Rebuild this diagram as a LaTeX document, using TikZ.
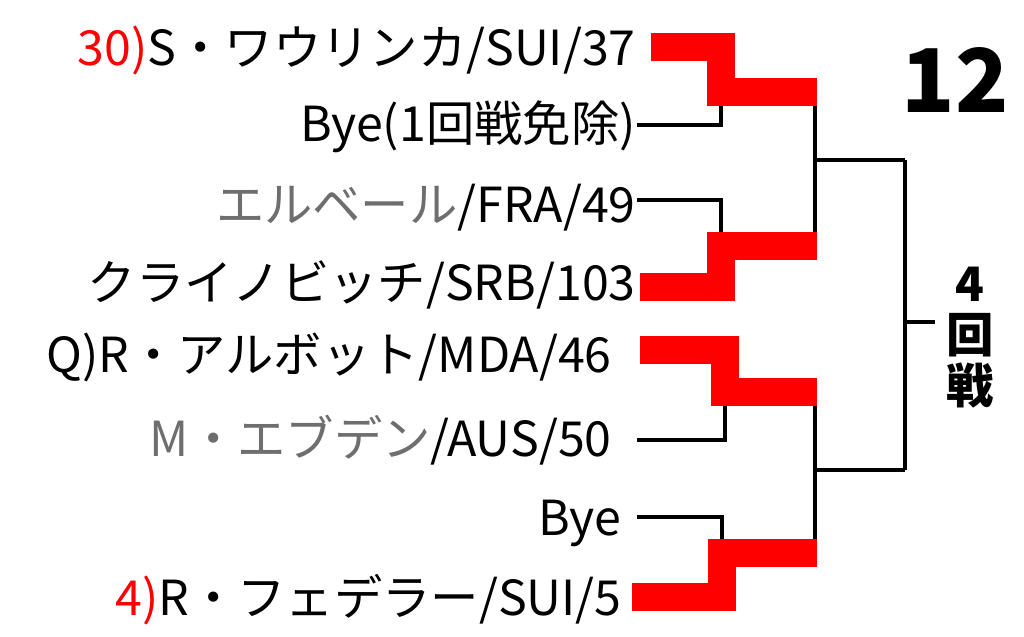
\documentclass[tikz,border=0pt]{standalone}
\usepackage{fontspec}
\setmainfont{Noto Sans CJK JP}
\definecolor{winred}{RGB}{255,0,0}
\definecolor{losegray}{RGB}{110,110,110}
\begin{document}
\begin{tikzpicture}[x=0.02cm,y=-0.02cm]
    \useasboundingbox (0,0) rectangle (1024,636);
    \tikzset{player/.style={anchor=east,inner sep=0pt,font=\fontsize{27.5}{27.5}\selectfont},
             win/.style={draw=winred,line width=0.56cm,line join=miter},
             lose/.style={draw=black,line width=0.08cm}}

    \node[player] (p1) at (636,50) {\textcolor{winred}{30)}S・ワウリンカ/SUI/37};
    \node[player] (p2) at (636,127) {Bye(1回戦免除)};
    \node[player,losegray] (p3) at (636,208) {エルベール\textcolor{black}{/FRA/49}};
    \node[player] (p4) at (636,285) {クライノビッチ/SRB/103};
    \node[player] (p5) at (612,357) {Q)R・アルボット/MDA/46};
    \node[player,losegray] (p6) at (612,440) {M・エブデン\textcolor{black}{/AUS/50}};
    \node[player] (p7) at (622,523) {Bye};
    \node[player] (p8) at (622,600) {\textcolor{winred}{4)}R・フェデラー/SUI/5};

    \coordinate (m1) at (817,92);
    \coordinate (m2) at (817,246);
    \coordinate (m3) at (817,392);
    \coordinate (m4) at (817,553);
    \coordinate (s1) at (905,160);
    \coordinate (s2) at (905,470);
    \coordinate (f) at (935,322);

    % first round
    \draw[lose] (637,125) -- (721,125) -- (721,92);
    \draw[win] (651,47) -- (721,47) -- (721,92) -- (m1);
    \draw[lose] (637,200) -- (721,200) -- (721,246);
    \draw[win] (640,287) -- (721,287) -- (721,246) -- (m2);
    \draw[lose] (637,440) -- (725,440) -- (725,392);
    \draw[win] (640,350) -- (725,350) -- (725,392) -- (m3);
    \draw[lose] (637,517) -- (722,517) -- (722,553);
    \draw[win] (632,597) -- (722,597) -- (722,553) -- (m4);

    % later rounds
    \draw[lose] (815,106) -- (815,232);
    \draw[lose] (815,160) -- (s1);
    \draw[lose] (815,406) -- (815,539);
    \draw[lose] (815,470) -- (s2);
    \draw[lose] (s1) -- (s2);
    \draw[lose] (905,322) -- (f);

    \node[font=\fontsize{27}{27}\selectfont\bfseries,align=center,inner sep=0pt] (r4) at (970,338) {4\\[2pt]回\\[2pt]戦};
    \node[font=\fontsize{50}{50}\selectfont\bfseries,inner sep=0pt] (num) at (955,80) {12};
\end{tikzpicture}
\end{document}
